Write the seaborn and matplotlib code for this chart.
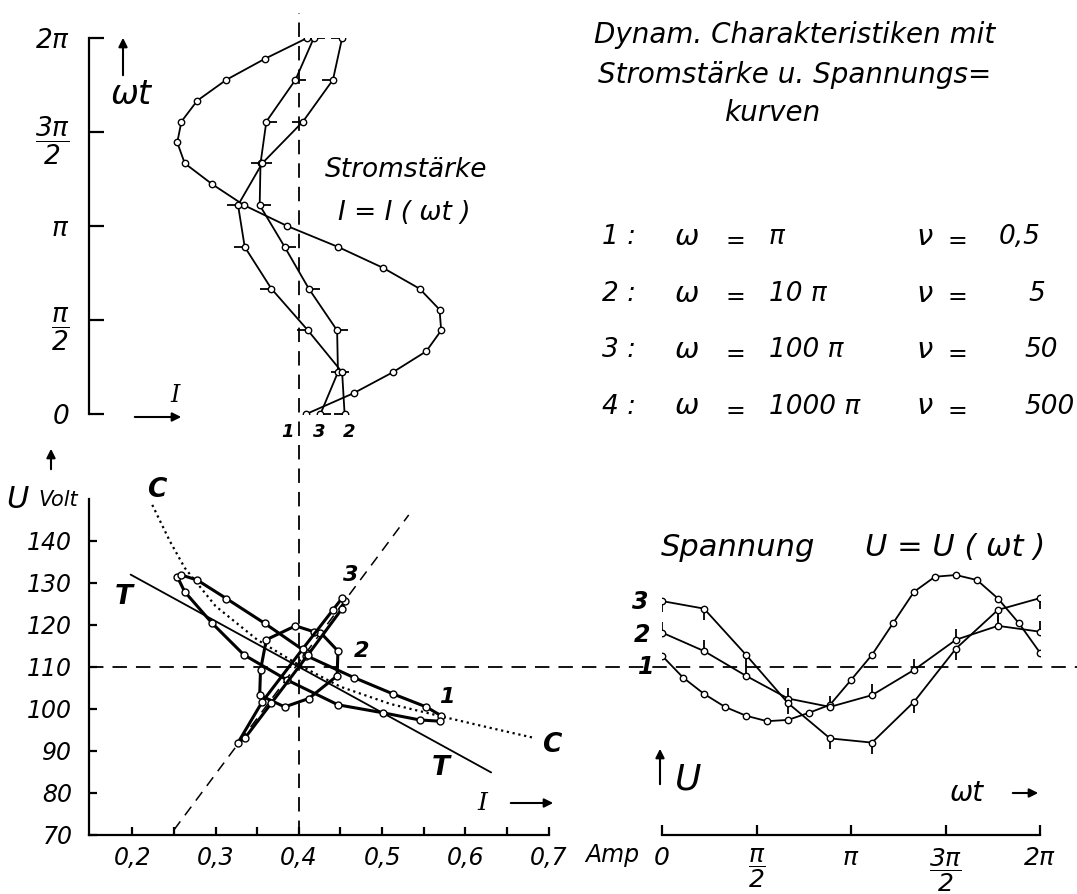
import numpy as np
import pandas as pd
import matplotlib
matplotlib.use("Agg")
import matplotlib.pyplot as plt
from matplotlib.patches import FancyArrowPatch
import seaborn as sns

W, H = 1077, 894

# phase of the measured points, degrees
wt_20 = [0, 20, 40, 60, 80, 100, 120, 140, 160, 180, 200, 220, 240, 260, 280, 300, 320, 340, 360]
wt_40 = [0, 40, 80, 120, 160, 200, 240, 280, 320, 360]

# current I(wt), Amp
i_1 = [0.409, 0.466, 0.513, 0.553, 0.571, 0.569, 0.545, 0.501, 0.447, 0.386,
       0.334, 0.296, 0.263, 0.254, 0.259, 0.278, 0.313, 0.359, 0.410]
i_2 = [0.426, 0.447, 0.446, 0.412, 0.383, 0.353, 0.354, 0.361, 0.396, 0.418]
i_3 = [0.455, 0.452, 0.411, 0.367, 0.335, 0.327, 0.356, 0.405, 0.441, 0.452]

# voltage U(wt), Volt
u_1 = [112.7, 107.5, 103.6, 100.5, 98.4, 97.1, 97.4, 99.1, 101.0, 106.9,
       112.9, 120.4, 127.9, 131.5, 131.9, 130.7, 126.3, 120.4, 113.4]
u_2 = [118.2, 113.8, 107.9, 102.5, 100.5, 103.3, 109.3, 116.5, 119.8, 118.4]
u_3 = [125.7, 123.9, 112.9, 101.4, 93.0, 92.0, 101.7, 114.4, 123.6, 126.4]

# static characteristic C, tangent T and resistance line
c_i = [0.224, 0.245, 0.263, 0.300, 0.350, 0.400, 0.450, 0.510, 0.572, 0.630, 0.683]
c_u = [148.6, 140.0, 133.6, 124.5, 116.5, 110.5, 105.3, 101.2, 98.2, 95.5, 93.1]
t_i = [0.198, 0.631]
t_u = [132.0, 84.9]
r_i = [0.250, 0.532]
r_u = [71.2, 146.2]

# legend table
row_num = ["1", "2", "3", "4"]
omega_txt = ["π", "10 π", "100 π", "1000 π"]
nu_txt = ["0,5", "5", "50", "500"]

pi_ticks = [0, np.pi / 2, np.pi, 3 * np.pi / 2, 2 * np.pi]
pi_labels = ["0", r"$\dfrac{\pi}{2}$", r"$\pi$", r"$\dfrac{3\pi}{2}$", r"$2\pi$"]

sns.set_theme(style="ticks")
plt.rcParams["font.family"] = ["DejaVu Sans"]
plt.rcParams["font.style"] = "italic"
plt.rcParams["mathtext.fontset"] = "dejavusans"
plt.rcParams["mathtext.default"] = "it"
plt.rcParams["axes.facecolor"] = "none"
plt.rcParams["axes.edgecolor"] = "black"
plt.rcParams["axes.linewidth"] = 1.6
plt.rcParams["text.color"] = "black"
plt.rcParams["xtick.color"] = "black"
plt.rcParams["ytick.color"] = "black"
plt.rcParams["xtick.labelcolor"] = "black"
plt.rcParams["ytick.labelcolor"] = "black"

fig = plt.figure(figsize=(W / 100, H / 100), dpi=100)


def px_axes(left, top, right, bottom):
    return fig.add_axes([left / W, 1 - bottom / H, (right - left) / W, (bottom - top) / H])


def label(x, y, s, size=18, ha="center", **kw):
    fig.text(x / W, 1 - y / H, s, fontsize=size, ha=ha, va="center", **kw)


def arrow(x0, y0, x1, y1):
    fig.add_artist(FancyArrowPatch((x0 / W, 1 - y0 / H), (x1 / W, 1 - y1 / H),
                                   transform=fig.transFigure, arrowstyle="-|>",
                                   mutation_scale=13, lw=1.5, color="black"))


def curve(ax, x, y, lw=1.3, ms=4.6, tick=None):
    if tick is not None:
        ax.plot(x, y, ls="none", marker=tick, ms=8, mew=1.3, color="black", zorder=1.5)
    sns.lineplot(x=x, y=y, ax=ax, sort=False, estimator=None, color="black", lw=lw,
                 marker="o", ms=ms, mfc="white", mec="black", mew=1.0)


# ---- Stromstaerke I(wt) ----
ax_i = px_axes(89, 38, 548.6, 414)
curve(ax_i, i_1, np.deg2rad(wt_20))
curve(ax_i, i_2, np.deg2rad(wt_40), tick=1)
curve(ax_i, i_3, np.deg2rad(wt_40), tick=0)
ax_i.set_xlim(0.148, 0.70)
ax_i.set_ylim(0, 2 * np.pi)
ax_i.set_xticks([])
ax_i.set_yticks(pi_ticks)
ax_i.set_yticklabels(pi_labels)
ax_i.tick_params(axis="y", direction="in", length=11, width=1.6, labelsize=19, pad=14)
sns.despine(ax=ax_i, bottom=True)
for x, s in zip([0.386, 0.425, 0.460], ["1", "3", "2"]):
    ax_i.text(x, -0.3, s, fontsize=13, fontweight="bold", ha="center", va="center")

# ---- U-I loops ----
ax_ui = px_axes(89, 499, 548.6, 835)
ax_ui.axvline(0.4, ymin=0, ymax=(835 - 13) / (835 - 499), color="black", lw=1.3,
              dashes=(8, 5), clip_on=False, zorder=1)
ax_ui.axhline(110, xmin=0, xmax=(W - 89) / (548.6 - 89), color="black", lw=1.3,
              dashes=(8, 5), clip_on=False, zorder=1)
sns.lineplot(x=t_i, y=t_u, ax=ax_ui, color="black", lw=1.3)
sns.lineplot(x=c_i, y=c_u, ax=ax_ui, sort=False, color="black", lw=1.6, ls=":")
sns.lineplot(x=r_i, y=r_u, ax=ax_ui, color="black", lw=1.1, ls=(0, (7, 5)))
curve(ax_ui, i_1, u_1, lw=2.2, ms=5)
curve(ax_ui, i_2, u_2, lw=2.2, ms=5)
curve(ax_ui, i_3, u_3, lw=2.2, ms=5)
ax_ui.set_xlim(0.148, 0.70)
ax_ui.set_ylim(70, 150)
ax_ui.set_xticks([0.2, 0.3, 0.4, 0.5, 0.6, 0.7])
ax_ui.set_xticklabels(["0,2", "0,3", "0,4", "0,5", "0,6", "0,7"])
ax_ui.set_xticks([0.25, 0.35, 0.45, 0.55, 0.65], minor=True)
ax_ui.set_yticks(range(70, 150, 10))
ax_ui.tick_params(which="both", direction="in", length=6, width=1.6, labelsize=17)
ax_ui.tick_params(axis="x", pad=8)
ax_ui.tick_params(axis="y", pad=12)
sns.despine(ax=ax_ui)
ax_ui.set_xlabel("")
ax_ui.set_ylabel("")

# ---- Spannung U(wt) ----
ax_u = px_axes(662, 499, 1040, 835)
curve(ax_u, np.deg2rad(wt_20), u_1)
curve(ax_u, np.deg2rad(wt_40), u_2, tick=2)
curve(ax_u, np.deg2rad(wt_40), u_3, tick=3)
ax_u.set_xlim(0, 2 * np.pi)
ax_u.set_ylim(70, 150)
ax_u.set_yticks([])
ax_u.set_xticks(pi_ticks)
ax_u.set_xticklabels(pi_labels)
ax_u.tick_params(axis="x", direction="in", length=7, width=1.6, labelsize=18, pad=8)
sns.despine(ax=ax_u, left=True)
ax_u.set_xlabel("")
ax_u.set_ylabel("")

# ---- texts ----
label(795, 35, "Dynam. Charakteristiken mit", 20)
label(795, 75, "Stromstärke u. Spannungs=", 20)
label(772, 113, "kurven", 20)
for k, (n, om) in enumerate(zip(row_num, omega_txt)):
    y = 237 + 56.5 * k
    label(602, y, n + " :", 19, ha="left")
    label(687, y, "ω", 21)
    label(735, y + 4, "=", 17)
    label(769, y, om, 19, ha="left")
    label(925, y, "ν", 21)
    label(957, y + 4, "=", 17)
label(999, 237, nu_txt[0], 19, ha="left")
label(1028, 293.5, nu_txt[1], 19, ha="left")
label(1024, 350, nu_txt[2], 19, ha="left")
label(1024, 406.5, nu_txt[3], 19, ha="left")

label(406, 170, "Stromstärke", 19)
label(404, 213, "I = I ( ωt )", 19)
label(131, 95, "ωt", 24)
arrow(123, 78, 123, 35)
label(175, 395, "I", 17, family="DejaVu Serif")
arrow(132, 417, 184, 417)

label(17, 500, "U", 22)
label(58, 500, "Volt", 15)
arrow(51, 472, 51, 446)
label(157, 490, "C", 19, fontweight="bold")
label(552, 745, "C", 19, fontweight="bold")
label(124, 597, "T", 19, fontweight="bold")
label(441, 768, "T", 19, fontweight="bold")
label(351, 575, "3", 16, fontweight="bold")
label(362, 651, "2", 16, fontweight="bold")
label(447, 697, "1", 16, fontweight="bold")
label(482, 803, "I", 18, family="DejaVu Serif")
arrow(508, 803, 556, 803)
label(612, 855, "Amp", 17)

label(738, 548, "Spannung", 22)
label(955, 548, "U = U ( ωt )", 22)
label(640, 602, "3", 17, fontweight="bold")
label(642, 635, "2", 17, fontweight="bold")
label(646, 667, "1", 17, fontweight="bold")
label(688, 780, "U", 26)
arrow(660, 787, 660, 746)
label(967, 793, "ωt", 20)
arrow(1010, 793, 1041, 793)

fig.savefig("out.png", dpi=100)
